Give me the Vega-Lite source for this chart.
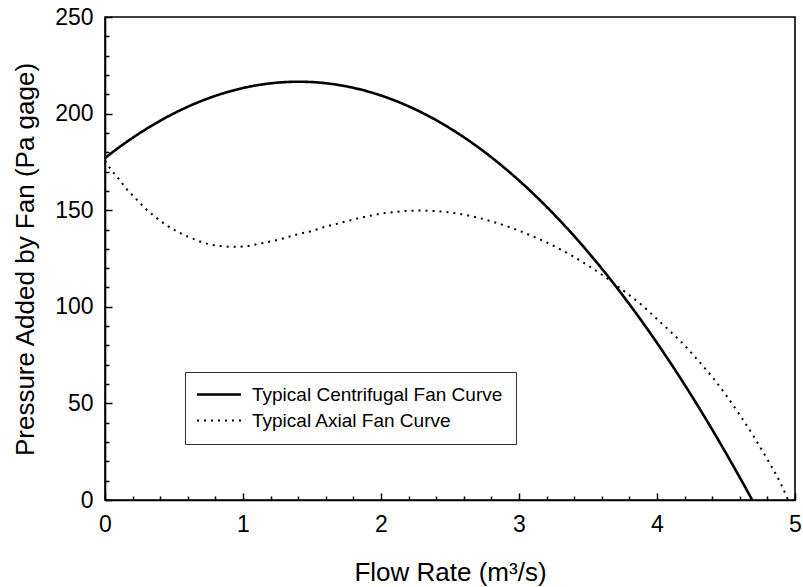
{
  "$schema": "https://vega.github.io/schema/vega-lite/v6.json",
  "autosize": {"type": "none"},
  "padding": {"left": 105, "top": 17, "right": 8, "bottom": 87},
  "width": 690,
  "height": 483,
  "background": "white",
  "config": {
    "font": "Liberation Sans",
    "view": {"stroke": "black", "strokeWidth": 1.6},
    "axis": {"grid": false, "labelColor": "black", "titleColor": "black", "labelFont": "Liberation Sans", "titleFont": "Liberation Sans", "labelFontSize": 23, "titleFontSize": 26, "titleFontWeight": "normal"}
  },
  "data": {"values": [
      {"flow": 0, "pressure": 177, "series": "Typical Centrifugal Fan Curve"},
      {"flow": 0.1, "pressure": 182.43, "series": "Typical Centrifugal Fan Curve"},
      {"flow": 0.2, "pressure": 187.45, "series": "Typical Centrifugal Fan Curve"},
      {"flow": 0.3, "pressure": 192.08, "series": "Typical Centrifugal Fan Curve"},
      {"flow": 0.4, "pressure": 196.3, "series": "Typical Centrifugal Fan Curve"},
      {"flow": 0.5, "pressure": 200.13, "series": "Typical Centrifugal Fan Curve"},
      {"flow": 0.6, "pressure": 203.55, "series": "Typical Centrifugal Fan Curve"},
      {"flow": 0.7, "pressure": 206.57, "series": "Typical Centrifugal Fan Curve"},
      {"flow": 0.8, "pressure": 209.19, "series": "Typical Centrifugal Fan Curve"},
      {"flow": 0.9, "pressure": 211.41, "series": "Typical Centrifugal Fan Curve"},
      {"flow": 1.0, "pressure": 213.23, "series": "Typical Centrifugal Fan Curve"},
      {"flow": 1.1, "pressure": 214.65, "series": "Typical Centrifugal Fan Curve"},
      {"flow": 1.2, "pressure": 215.66, "series": "Typical Centrifugal Fan Curve"},
      {"flow": 1.3, "pressure": 216.28, "series": "Typical Centrifugal Fan Curve"},
      {"flow": 1.4, "pressure": 216.49, "series": "Typical Centrifugal Fan Curve"},
      {"flow": 1.5, "pressure": 216.31, "series": "Typical Centrifugal Fan Curve"},
      {"flow": 1.6, "pressure": 215.72, "series": "Typical Centrifugal Fan Curve"},
      {"flow": 1.7, "pressure": 214.73, "series": "Typical Centrifugal Fan Curve"},
      {"flow": 1.8, "pressure": 213.34, "series": "Typical Centrifugal Fan Curve"},
      {"flow": 1.9, "pressure": 211.55, "series": "Typical Centrifugal Fan Curve"},
      {"flow": 2.0, "pressure": 209.36, "series": "Typical Centrifugal Fan Curve"},
      {"flow": 2.2, "pressure": 203.77, "series": "Typical Centrifugal Fan Curve"},
      {"flow": 2.4, "pressure": 196.58, "series": "Typical Centrifugal Fan Curve"},
      {"flow": 2.6, "pressure": 187.79, "series": "Typical Centrifugal Fan Curve"},
      {"flow": 2.8, "pressure": 177.39, "series": "Typical Centrifugal Fan Curve"},
      {"flow": 3.0, "pressure": 165.39, "series": "Typical Centrifugal Fan Curve"},
      {"flow": 3.2, "pressure": 151.78, "series": "Typical Centrifugal Fan Curve"},
      {"flow": 3.4, "pressure": 136.57, "series": "Typical Centrifugal Fan Curve"},
      {"flow": 3.6, "pressure": 119.76, "series": "Typical Centrifugal Fan Curve"},
      {"flow": 3.8, "pressure": 101.34, "series": "Typical Centrifugal Fan Curve"},
      {"flow": 4.0, "pressure": 81.32, "series": "Typical Centrifugal Fan Curve"},
      {"flow": 4.2, "pressure": 59.69, "series": "Typical Centrifugal Fan Curve"},
      {"flow": 4.4, "pressure": 36.46, "series": "Typical Centrifugal Fan Curve"},
      {"flow": 4.6, "pressure": 11.63, "series": "Typical Centrifugal Fan Curve"},
      {"flow": 4.69, "pressure": 0, "series": "Typical Centrifugal Fan Curve"},
      {"flow": 0, "pressure": 175.5, "series": "Typical Axial Fan Curve"},
      {"flow": 0.05, "pressure": 170.5, "series": "Typical Axial Fan Curve"},
      {"flow": 0.1, "pressure": 166.2, "series": "Typical Axial Fan Curve"},
      {"flow": 0.15, "pressure": 161.5, "series": "Typical Axial Fan Curve"},
      {"flow": 0.2, "pressure": 157.7, "series": "Typical Axial Fan Curve"},
      {"flow": 0.25, "pressure": 154, "series": "Typical Axial Fan Curve"},
      {"flow": 0.3, "pressure": 150.4, "series": "Typical Axial Fan Curve"},
      {"flow": 0.35, "pressure": 147.4, "series": "Typical Axial Fan Curve"},
      {"flow": 0.4, "pressure": 144.5, "series": "Typical Axial Fan Curve"},
      {"flow": 0.45, "pressure": 142, "series": "Typical Axial Fan Curve"},
      {"flow": 0.5, "pressure": 139.9, "series": "Typical Axial Fan Curve"},
      {"flow": 0.55, "pressure": 138, "series": "Typical Axial Fan Curve"},
      {"flow": 0.6, "pressure": 136.3, "series": "Typical Axial Fan Curve"},
      {"flow": 0.65, "pressure": 134.9, "series": "Typical Axial Fan Curve"},
      {"flow": 0.7, "pressure": 133.5, "series": "Typical Axial Fan Curve"},
      {"flow": 0.75, "pressure": 132.5, "series": "Typical Axial Fan Curve"},
      {"flow": 0.8, "pressure": 131.8, "series": "Typical Axial Fan Curve"},
      {"flow": 0.85, "pressure": 131.4, "series": "Typical Axial Fan Curve"},
      {"flow": 0.9, "pressure": 131.1, "series": "Typical Axial Fan Curve"},
      {"flow": 0.95, "pressure": 131.1, "series": "Typical Axial Fan Curve"},
      {"flow": 1.0, "pressure": 131.2, "series": "Typical Axial Fan Curve"},
      {"flow": 1.05, "pressure": 131.6, "series": "Typical Axial Fan Curve"},
      {"flow": 1.1, "pressure": 132.4, "series": "Typical Axial Fan Curve"},
      {"flow": 1.2, "pressure": 133.8, "series": "Typical Axial Fan Curve"},
      {"flow": 1.3, "pressure": 135.6, "series": "Typical Axial Fan Curve"},
      {"flow": 1.4, "pressure": 137.6, "series": "Typical Axial Fan Curve"},
      {"flow": 1.5, "pressure": 139.3, "series": "Typical Axial Fan Curve"},
      {"flow": 1.6, "pressure": 141.5, "series": "Typical Axial Fan Curve"},
      {"flow": 1.7, "pressure": 143.3, "series": "Typical Axial Fan Curve"},
      {"flow": 1.8, "pressure": 145.2, "series": "Typical Axial Fan Curve"},
      {"flow": 1.9, "pressure": 146.8, "series": "Typical Axial Fan Curve"},
      {"flow": 2.0, "pressure": 148.2, "series": "Typical Axial Fan Curve"},
      {"flow": 2.1, "pressure": 149.1, "series": "Typical Axial Fan Curve"},
      {"flow": 2.2, "pressure": 149.7, "series": "Typical Axial Fan Curve"},
      {"flow": 2.3, "pressure": 149.8, "series": "Typical Axial Fan Curve"},
      {"flow": 2.4, "pressure": 149.5, "series": "Typical Axial Fan Curve"},
      {"flow": 2.5, "pressure": 148.8, "series": "Typical Axial Fan Curve"},
      {"flow": 2.6, "pressure": 147.7, "series": "Typical Axial Fan Curve"},
      {"flow": 2.7, "pressure": 146.2, "series": "Typical Axial Fan Curve"},
      {"flow": 2.8, "pressure": 144.2, "series": "Typical Axial Fan Curve"},
      {"flow": 2.9, "pressure": 142, "series": "Typical Axial Fan Curve"},
      {"flow": 3.0, "pressure": 139.4, "series": "Typical Axial Fan Curve"},
      {"flow": 3.1, "pressure": 136.5, "series": "Typical Axial Fan Curve"},
      {"flow": 3.2, "pressure": 133.3, "series": "Typical Axial Fan Curve"},
      {"flow": 3.3, "pressure": 129.7, "series": "Typical Axial Fan Curve"},
      {"flow": 3.4, "pressure": 125.8, "series": "Typical Axial Fan Curve"},
      {"flow": 3.5, "pressure": 121.4, "series": "Typical Axial Fan Curve"},
      {"flow": 3.6, "pressure": 116.7, "series": "Typical Axial Fan Curve"},
      {"flow": 3.7, "pressure": 111.4, "series": "Typical Axial Fan Curve"},
      {"flow": 3.8, "pressure": 106, "series": "Typical Axial Fan Curve"},
      {"flow": 3.9, "pressure": 100.3, "series": "Typical Axial Fan Curve"},
      {"flow": 4.0, "pressure": 93.6, "series": "Typical Axial Fan Curve"},
      {"flow": 4.1, "pressure": 87, "series": "Typical Axial Fan Curve"},
      {"flow": 4.2, "pressure": 80, "series": "Typical Axial Fan Curve"},
      {"flow": 4.3, "pressure": 72, "series": "Typical Axial Fan Curve"},
      {"flow": 4.4, "pressure": 63.7, "series": "Typical Axial Fan Curve"},
      {"flow": 4.5, "pressure": 54.3, "series": "Typical Axial Fan Curve"},
      {"flow": 4.6, "pressure": 44, "series": "Typical Axial Fan Curve"},
      {"flow": 4.7, "pressure": 33, "series": "Typical Axial Fan Curve"},
      {"flow": 4.8, "pressure": 21, "series": "Typical Axial Fan Curve"},
      {"flow": 4.9, "pressure": 8, "series": "Typical Axial Fan Curve"},
      {"flow": 4.95, "pressure": 0, "series": "Typical Axial Fan Curve"}
  ]},
  "mark": {"type": "line", "color": "black", "interpolate": "monotone", "clip": true, "strokeCap": "butt"},
  "encoding": {
    "x": {"field": "flow", "type": "quantitative", "scale": {"domain": [0, 5], "nice": false},
      "axis": {"orient": "bottom", "values": [0, 0.2, 0.4, 0.6, 0.8, 1, 1.2, 1.4, 1.6, 1.8, 2, 2.2, 2.4, 2.6, 2.8, 3, 3.2, 3.4, 3.6, 3.8, 4, 4.2, 4.4, 4.6, 4.8, 5],
        "labelExpr": "abs(datum.value - round(datum.value)) < 0.001 ? format(datum.value, 'd') : ''",
        "domain": true, "domainColor": "black", "domainWidth": 1.6,
        "tickColor": "black", "tickWidth": 1.5,
        "tickSize": {"condition": {"test": "abs(datum.value - round(datum.value)) < 0.001", "value": -7}, "value": -4},
        "labelPadding": 20, "labelFlush": false,
        "title": "Flow Rate (m³/s)", "titleBaseline": "alphabetic", "titleY": 80}},
    "y": {"field": "pressure", "type": "quantitative", "scale": {"domain": [0, 250], "nice": false},
      "axis": {"orient": "left", "values": [0, 10, 20, 30, 40, 50, 60, 70, 80, 90, 100, 110, 120, 130, 140, 150, 160, 170, 180, 190, 200, 210, 220, 230, 240, 250],
        "labelExpr": "datum.value % 50 === 0 ? datum.label : ''",
        "domain": true, "domainColor": "black", "domainWidth": 1.6,
        "tickColor": "black", "tickWidth": 1.5,
        "tickSize": {"condition": {"test": "datum.value % 50 === 0", "value": -7}, "value": -4},
        "labelPadding": 19, "labelFlush": false,
        "title": "Pressure Added by Fan (Pa gage)", "titleBaseline": "alphabetic", "titleX": -72, "titleY": 242}},
    "strokeDash": {"field": "series", "type": "nominal",
      "scale": {"domain": ["Typical Centrifugal Fan Curve", "Typical Axial Fan Curve"], "range": [[1, 0], [2, 5]]},
      "legend": {"title": null, "orient": "none", "legendX": 80, "legendY": 355, "padding": 13, "strokeColor": "#333", "fillColor": "white", "labelFont": "Liberation Sans", "labelFontSize": 19, "labelColor": "black", "labelLimit": 0, "symbolType": "M-1.9,0H6.1", "symbolSize": 121, "symbolStrokeWidth": 2.2, "symbolStrokeColor": "black", "labelOffset": 35, "rowPadding": 6}},
    "strokeWidth": {"field": "series", "type": "nominal",
      "scale": {"domain": ["Typical Centrifugal Fan Curve", "Typical Axial Fan Curve"], "range": [2.6, 2]}, "legend": null}
  }
}
